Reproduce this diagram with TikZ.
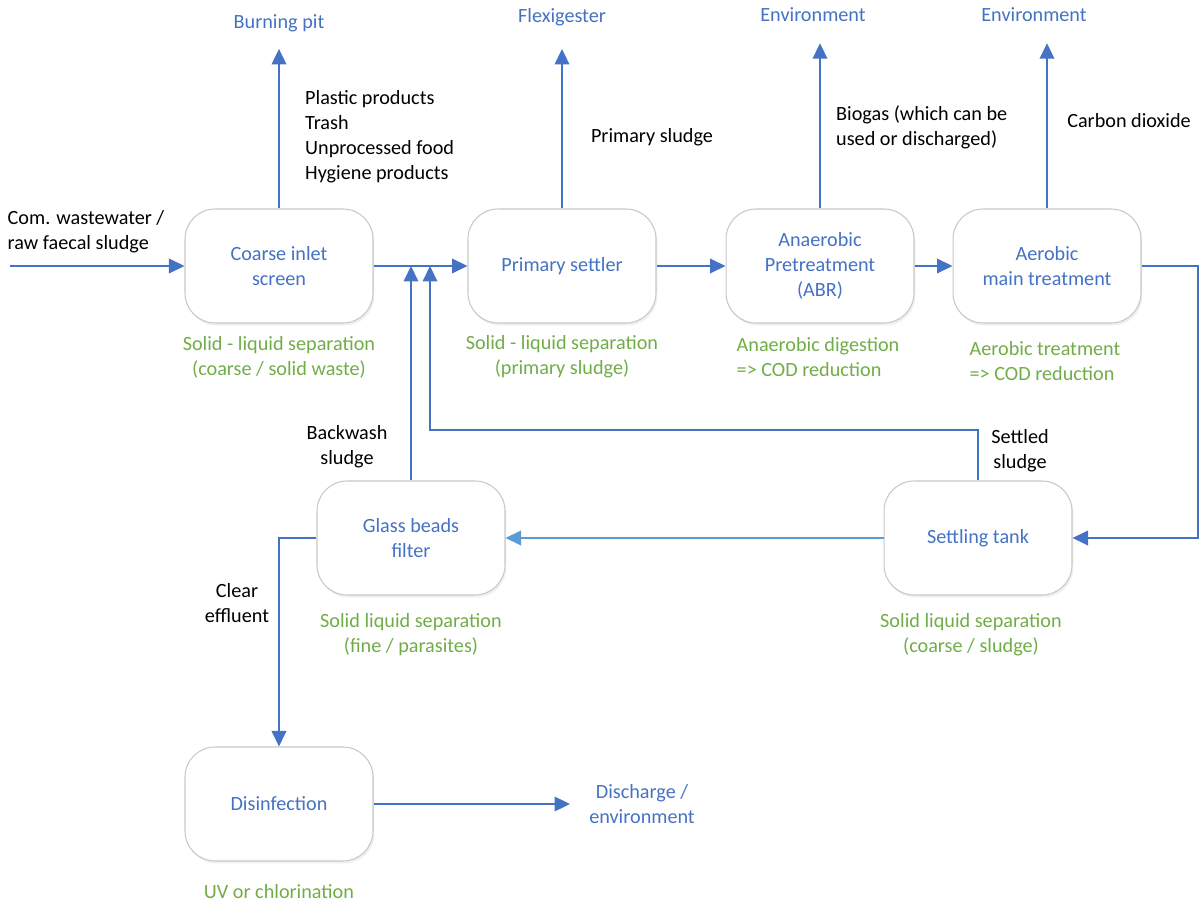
\documentclass[tikz,border=0pt]{standalone}
\usepackage{fontspec}
\setmainfont{Carlito}
\usetikzlibrary{arrows.meta,positioning,shadows}
\definecolor{flowblue}{RGB}{68,114,196}
\definecolor{lightflow}{RGB}{91,155,213}
\definecolor{notegreen}{RGB}{112,173,71}
\definecolor{boxgray}{RGB}{200,200,200}
\tikzset{
  % every text in the picture
  every node/.append style={font=\fontsize{11.5}{14.3}\selectfont},
  % process box
  unit/.style={
    draw=boxgray,
    line width=0.6pt,
    fill=white,
    rounded corners=0.6cm,
    minimum width=3.76cm,
    minimum height=2.28cm,
    align=center,
    text=flowblue,
    drop shadow={opacity=0.12, shadow xshift=0.03cm, shadow yshift=-0.05cm}
  },
  % where a stream leaves to
  dest/.style={text=flowblue, align=center},
  % what the stream carries
  stream/.style={text=black, align=left},
  % what the unit does
  note/.style={text=notegreen, align=center},
  % connectors
  flow/.style={-{Triangle[length=0.31cm, width=0.29cm]}, line width=1.15pt, flowblue},
}
\begin{document}
\begin{tikzpicture}[x=0.02cm, y=-0.02cm]
    \useasboundingbox (0,0) rectangle (1200,905);

    % Units
    \node[unit] (coarse) at (279,266) {Coarse inlet\\screen};
    \node[unit] (primary) at (562,266) {Primary settler};
    \node[unit] (anaerobic) at (820,266) {Anaerobic\\Pretreatment\\(ABR)};
    \node[unit] (aerobic) at (1047,266) {Aerobic\\main treatment};
    \node[unit] (glass) at (411,538) {Glass beads\\filter};
    \node[unit] (settle) at (978,538) {Settling tank};
    \node[unit] (disinf) at (279,804) {Disinfection};

    % Destinations
    \node[dest] (pit) at (279,23) {Burning pit};
    \node[dest] (flexi) at (562,17) {Flexigester};
    \node[dest] (env1) at (813,15) {Environment};
    \node[dest] (env2) at (1034,15) {Environment};
    \node[dest] (discharge) at (642,804) {Discharge /\\environment};

    % Streams
    \node[stream] (inflow) at (86,232) {Com. wastewater /\\raw faecal sludge};
    \node[stream, anchor=west] (screenings) at (299,137)
        {Plastic products\\Trash\\Unprocessed food\\Hygiene products};
    \node[stream] (psludge) at (652,137) {Primary sludge};
    \node[stream, anchor=west] (biogas) at (830,127) {Biogas (which can be\\used or discharged)};
    \node[stream] (co2) at (1129,121) {Carbon dioxide};
    \node[stream, align=center] (backwash) at (347,447) {Backwash\\sludge};
    \node[stream, align=center] (settled) at (1020,451) {Settled\\sludge};
    \node[stream, align=center] (clear) at (237,603) {Clear\\effluent};

    % Notes
    \node[note] (n1) at (279,357) {Solid - liquid separation\\(coarse / solid waste)};
    \node[note] (n2) at (562,357) {Solid - liquid separation\\(primary sludge)};
    \node[note, align=left] (n3) at (818,357) {Anaerobic digestion\\=> COD reduction};
    \node[note, align=left] (n4) at (1045,361) {Aerobic treatment\\=> COD reduction};
    \node[note] (n5) at (411,635) {Solid liquid separation\\(fine / parasites)};
    \node[note] (n6) at (971,635) {Solid liquid separation\\(coarse / sludge)};
    \node[note] (n7) at (279,892) {UV or chlorination};

    % Main line
    \coordinate (feed) at (10,266);
    \draw[flow] (feed) -- (coarse.west);
    \draw[flow] (coarse.east) -- (primary.west);
    \draw[flow] (primary.east) -- (anaerobic.west);
    \draw[flow] (anaerobic.east) -- (aerobic.west);
    \draw[flow] (aerobic.east) -- ++(56,0) |- (settle.east);
    \draw[flow, lightflow] (settle.west) -- (glass.east);
    \draw[flow] (glass.west) -| (disinf.north);
    \draw[flow, shorten >=0.26cm] (disinf.east) -- (discharge.west |- disinf.east);

    % Side streams
    \draw[flow, shorten >=0.22cm] (coarse.north) -- (pit.south);
    \draw[flow, shorten >=0.34cm] (primary.north) -- (flexi.south);
    \draw[flow, shorten >=0.3cm] (anaerobic.north) -- (anaerobic.north |- env1.south);
    \draw[flow, shorten >=0.3cm] (aerobic.north) -- (aerobic.north |- env2.south);

    % Sludge return
    \coordinate (ret) at (430,430);
    \draw[flow] (settle.north) |- (ret) -- (ret |- coarse.east);
    \draw[flow] (glass.north) -- (glass.north |- coarse.east);
\end{tikzpicture}
\end{document}
